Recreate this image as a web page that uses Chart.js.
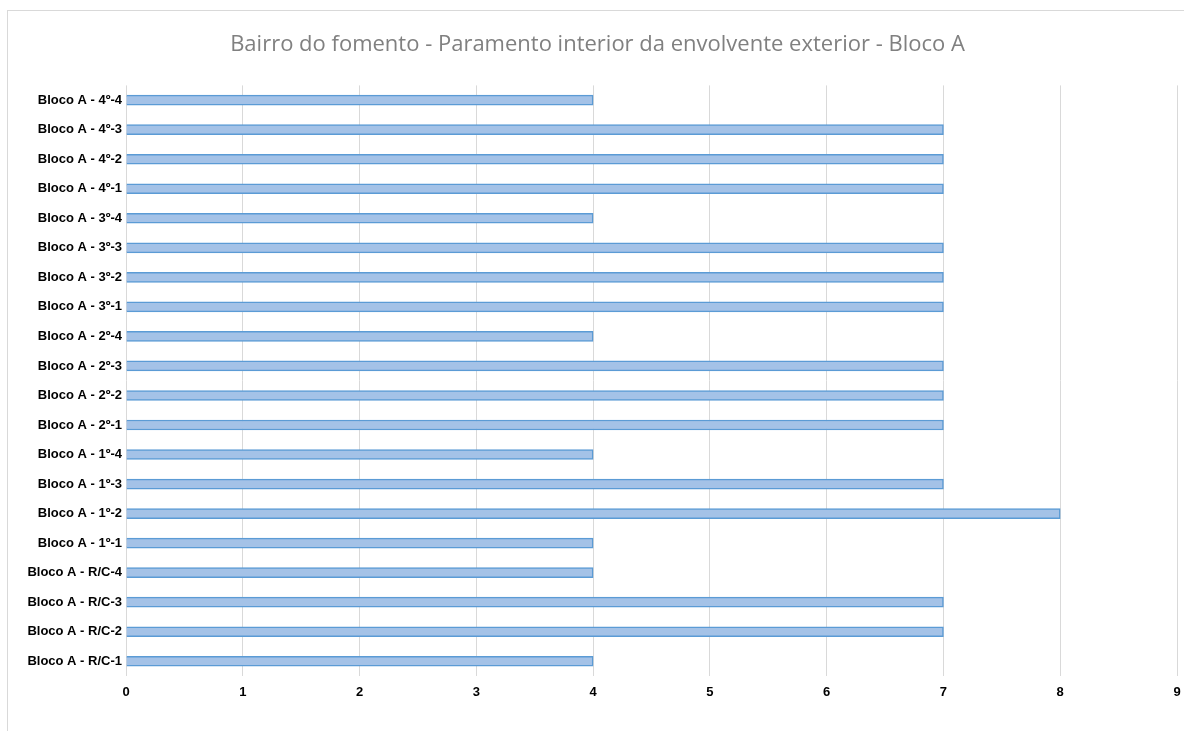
<!DOCTYPE html>
<html>
<head>
<meta charset="utf-8">
<script src="https://cdn.jsdelivr.net/npm/chart.js@4.4.0/dist/chart.umd.min.js"></script>
<style>
    html, body { margin: 0; padding: 0; background: #ffffff; overflow: hidden; }
    #frame {
        position: absolute; left: 7px; top: 10px; width: 1190px; height: 740px;
        border: 1px solid #d9d9d9; box-sizing: border-box;
    }
    #wrap { position: absolute; left: 0; top: 0; width: 1184px; height: 731px; }
</style>
</head>
<body>
<div id="frame"></div>
<div id="wrap"><canvas id="chart"></canvas></div>
<script>
    // categories from bottom (first) to top, as in the original sheet
    const categories = [
        'Bloco A - R/C-1', 'Bloco A - R/C-2', 'Bloco A - R/C-3', 'Bloco A - R/C-4',
        'Bloco A - 1º-1', 'Bloco A - 1º-2', 'Bloco A - 1º-3', 'Bloco A - 1º-4',
        'Bloco A - 2º-1', 'Bloco A - 2º-2', 'Bloco A - 2º-3', 'Bloco A - 2º-4',
        'Bloco A - 3º-1', 'Bloco A - 3º-2', 'Bloco A - 3º-3', 'Bloco A - 3º-4',
        'Bloco A - 4º-1', 'Bloco A - 4º-2', 'Bloco A - 4º-3', 'Bloco A - 4º-4'
    ];
    const values = [4, 7, 7, 4, 4, 8, 7, 4, 7, 7, 7, 4, 7, 7, 7, 4, 7, 7, 7, 4];
    const xTicks = [0, 1, 2, 3, 4, 5, 6, 7, 8, 9];
    const chartTitle = 'Bairro do fomento - Paramento interior da envolvente exterior - Bloco A';

    const ctx = document.getElementById('chart').getContext('2d');
    new Chart(ctx, {
        type: 'bar',
        data: {
            labels: categories,
            datasets: [{
                data: values,
                backgroundColor: '#a4c2e7',
                borderColor: '#5b9bd5',
                borderWidth: 1.5,
                barThickness: 10
            }]
        },
        options: {
            indexAxis: 'y',
            responsive: true,
            maintainAspectRatio: false,
            animation: false,
            layout: { padding: { left: 18, right: 7, top: 0, bottom: 15 } },
            plugins: {
                legend: { display: false },
                tooltip: { enabled: false },
                title: {
                    display: true,
                    text: chartTitle,
                    color: '#808080',
                    font: { family: 'Open Sans', size: 22, weight: 'normal' },
                    padding: { top: 32, bottom: 27 }
                }
            },
            scales: {
                x: {
                    min: 0,
                    max: 9,
                    afterBuildTicks: axis => { axis.ticks = xTicks.map(v => ({ value: v })); },
                    afterFit: axis => {
                        axis.height = 40;
                        axis.paddingLeft = 0;
                        axis.paddingRight = 0;
                    },
                    grid: { color: '#d9d9d9', drawTicks: false },
                    border: { display: false },
                    ticks: {
                        padding: 9,
                        color: '#000000',
                        font: { family: 'Liberation Sans', size: 13, weight: 'bold' }
                    }
                },
                y: {
                    reverse: true,
                    afterFit: axis => { axis.width = 108; },
                    grid: { display: false, drawTicks: false },
                    border: { display: false },
                    ticks: {
                        padding: 4,
                        color: '#000000',
                        autoSkip: false,
                        font: { family: 'Liberation Sans', size: 13, weight: 'bold' }
                    }
                }
            }
        }
    });
</script>
</body>
</html>
